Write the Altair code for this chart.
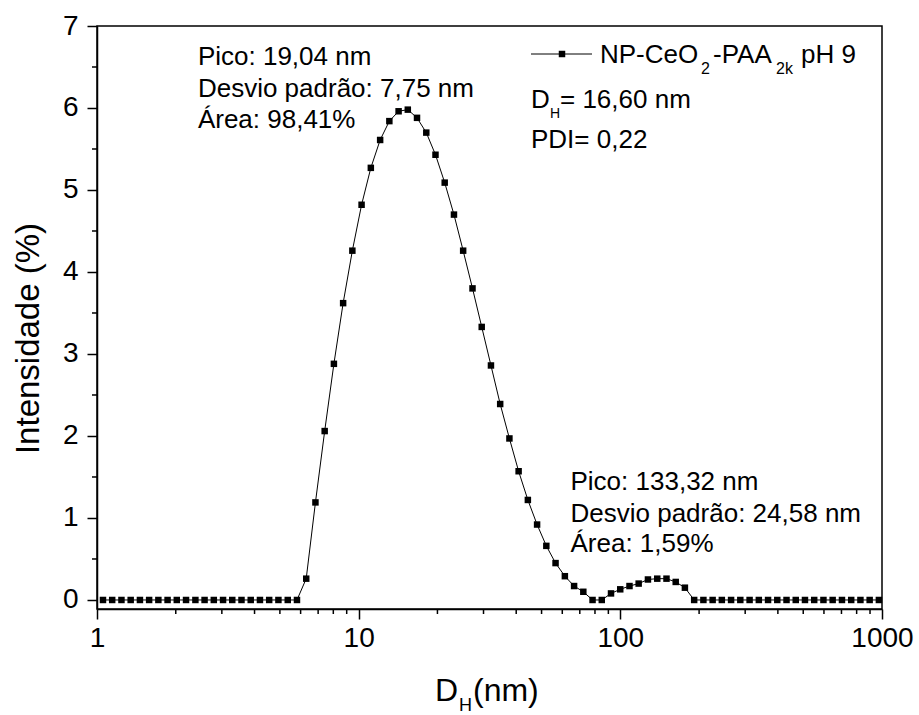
import altair as alt
import pandas as pd

FONT = "Liberation Sans"

# hydrodynamic diameter bins (nm) and intensity (%)
size_nm = [1.054, 1.143, 1.240, 1.345, 1.459, 1.582, 1.716, 1.861, 2.018, 2.189,
           2.377, 2.577, 2.795, 3.032, 3.288, 3.566, 3.868, 4.195, 4.550, 4.935,
           5.358, 5.811, 6.303, 6.836, 7.415, 8.042, 8.722, 9.460, 10.26, 11.13,
           12.08, 13.10, 14.21, 15.41, 16.71, 18.13, 19.66, 21.32, 23.13, 25.08,
           27.23, 29.53, 32.03, 34.74, 37.68, 40.86, 44.32, 48.07, 52.14, 56.55,
           61.38, 66.57, 72.20, 78.31, 84.94, 92.12, 99.92, 108.4, 117.5, 127.5,
           138.4, 150.1, 162.8, 176.5, 191.5, 207.7, 225.3, 244.3, 265.0, 287.4,
           311.9, 338.3, 366.9, 397.9, 431.6, 468.1, 507.7, 550.7, 597.3, 647.8,
           703.1, 762.6, 827.1, 897.1, 973.0]
intensity = [0, 0, 0, 0, 0, 0, 0, 0, 0, 0,
             0, 0, 0, 0, 0, 0, 0, 0, 0, 0,
             0, 0, 0.26, 1.19, 2.06, 2.88, 3.62, 4.26, 4.82, 5.27,
             5.61, 5.84, 5.96, 5.98, 5.88, 5.70, 5.43, 5.09, 4.70, 4.26,
             3.80, 3.33, 2.86, 2.39, 1.97, 1.57, 1.22, 0.92, 0.66, 0.45,
             0.29, 0.17, 0.10, 0, 0, 0.08, 0.13, 0.17, 0.20, 0.25,
             0.26, 0.26, 0.22, 0.15, 0, 0, 0, 0, 0, 0,
             0, 0, 0, 0, 0, 0, 0, 0, 0, 0,
             0, 0, 0, 0, 0]

x_major = [1, 10, 100, 1000]
x_minor = [2, 3, 4, 5, 6, 7, 8, 9, 20, 30, 40, 50, 60, 70, 80, 90,
           200, 300, 400, 500, 600, 700, 800, 900]
y_major = [0, 1, 2, 3, 4, 5, 6, 7]
y_minor = [0.5, 1.5, 2.5, 3.5, 4.5, 5.5, 6.5]

peak1_text = ["Pico: 19,04 nm", "Desvio padrão: 7,75 nm", "Área: 98,41%"]
peak1_x = [2.43, 2.43, 2.43]
peak1_y = [6.52, 6.14, 5.76]
peak2_text = ["Pico: 133,32 nm", "Desvio padrão: 24,58 nm", "Área: 1,59%"]
peak2_x = [64.5, 64.5, 64.5]
peak2_y = [1.34, 0.955, 0.59]

# layout (pixels)
L, T = 97, 26
W, H = 785, 583

xs = alt.Scale(type="log", domain=[1, 1000], nice=False)
ys = alt.Scale(domain=[-0.11, 7], nice=False, zero=False)

df = pd.DataFrame({"d": size_nm, "i": intensity})

xaxis = alt.Axis(values=x_major, format="d", title="", labelFont=FONT,
                 labelFontSize=28, labelColor="black", tickSize=10, tickWidth=1.5,
                 tickColor="black", domainColor="black", domainWidth=1.5, grid=False,
                 labelPadding=5, labelFlush=False, labelOverlap=False)
yaxis = alt.Axis(values=y_major, format="d", title="Intensidade (%)", titleFont=FONT,
                 titleFontSize=33, titleFontWeight="normal", titleColor="black",
                 titleAngle=270, titleX=-69, titleY=312, titleBaseline="middle",
                 titleAlign="center",
                 labelFont=FONT, labelFontSize=28, labelColor="black", tickSize=10,
                 tickWidth=1.5, tickColor="black", domainColor="black", domainWidth=1.5,
                 grid=False, labelPadding=9, labelFlush=False, labelOverlap=False)

line = alt.Chart(df).mark_line(color="black", strokeWidth=1).encode(
    x=alt.X("d:Q", scale=xs, axis=xaxis),
    y=alt.Y("i:Q", scale=ys, axis=yaxis),
)
pts = alt.Chart(df).mark_point(shape="square", filled=True, size=42, color="black",
                               opacity=1).encode(
    x=alt.X("d:Q"),
    y=alt.Y("i:Q"),
)

xminor = alt.Chart(pd.DataFrame({"d": x_minor})).mark_rule(
    color="black", strokeWidth=1.5).encode(
    x=alt.X("d:Q"),
    y=alt.value(H), y2=alt.value(H + 5),
)
yminor = alt.Chart(pd.DataFrame({"i": y_minor})).mark_rule(
    color="black", strokeWidth=1.5).encode(
    y=alt.Y("i:Q"),
    x=alt.value(0), x2=alt.value(-5),
)

ann = pd.DataFrame({"t": peak1_text + peak2_text,
                    "d": peak1_x + peak2_x,
                    "i": peak1_y + peak2_y})
annot = alt.Chart(ann).mark_text(align="left", baseline="alphabetic", font=FONT,
                                 fontSize=26, color="black").encode(
    x=alt.X("d:Q"),
    y=alt.Y("i:Q"),
    text="t:N",
)

one = alt.Data(values=[{"k": 0}])


def label(s, px, py, fs):
    return alt.Chart(one).mark_text(text=s, align="left", baseline="alphabetic",
                                    font=FONT, fontSize=fs, color="black").encode(
        x=alt.value(px - L), y=alt.value(py - T))


leg_line = alt.Chart(one).mark_rule(color="black", strokeWidth=1).encode(
    x=alt.value(531 - L), x2=alt.value(592 - L), y=alt.value(54 - T))
leg_pt = alt.Chart(one).mark_point(shape="square", filled=True, size=42,
                                   color="black", opacity=1).encode(
    x=alt.value(562 - L), y=alt.value(54 - T))

texts = [
    label("NP-CeO", 600, 63, 26),
    label("2", 701, 74, 16),
    label("-PAA", 713, 63, 26),
    label("2k", 776, 74, 16),
    label("pH 9", 801, 63, 26),
    label("D", 531, 108, 26),
    label("H", 550, 118, 14),
    label("= 16,60 nm", 560, 108, 26),
    label("PDI= 0,22", 531, 148, 26),
    label("D", 435, 701, 32),
    label("H", 459, 711, 18),
    label("(nm)", 473, 701, 32),
]

chart = alt.layer(line, pts, xminor, yminor, annot, leg_line, leg_pt, *texts).properties(
    width=W, height=H,
    padding={"left": L, "top": T, "right": 919 - L - W, "bottom": 715 - T - H},
    autosize=alt.AutoSizeParams(type="none"),
    background="white",
).configure_view(stroke="black", strokeWidth=1.5)

chart.save("out.html", embed_options={"renderer": "svg", "actions": False})
